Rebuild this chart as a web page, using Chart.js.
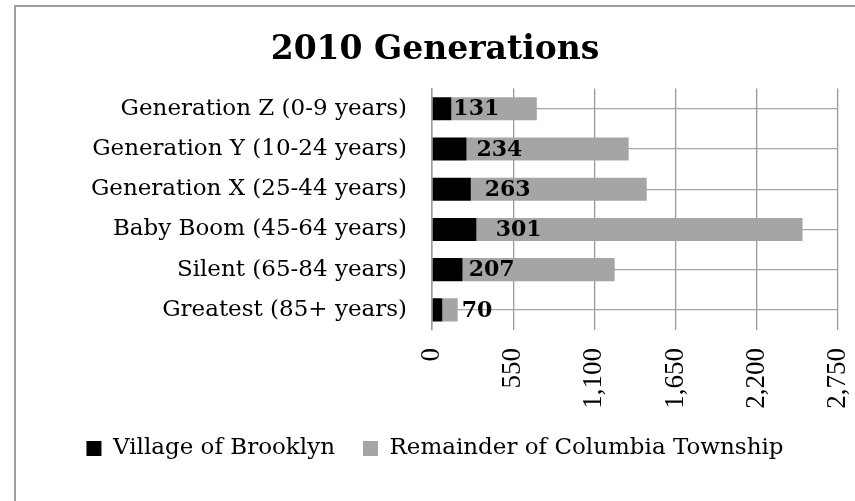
<!DOCTYPE html>
<html>
<head>
<meta charset="utf-8">
<script src="https://cdn.jsdelivr.net/npm/chart.js@4/dist/chart.umd.min.js"></script>
<style>
  html, body { margin: 0; padding: 0; background: #fff; overflow: hidden; }
  #wrap { position: absolute; left: 0; top: 0; width: 855px; height: 501px; }
</style>
</head>
<body>
<div id="wrap"><canvas id="c" width="855" height="501"></canvas></div>
<script>
const categories = [
  "Generation Z (0-9 years)",
  "Generation Y (10-24 years)",
  "Generation X (25-44 years)",
  "Baby Boom (45-64 years)",
  "Silent (65-84 years)",
  "Greatest (85+ years)"
];
const villageOfBrooklyn = [131, 234, 263, 301, 207, 70];
const remainderOfColumbia = [579, 1098, 1191, 2209, 1030, 104];
const seriesNames = ["Village of Brooklyn", "Remainder of Columbia Township"];
const xTicks = [0, 550, 1100, 1650, 2200, 2750];
const chartTitle = "2010 Generations";

const SERIF = "'DejaVu Serif', Georgia, serif";

const borderPlugin = {
  id: 'outerBorder',
  beforeDraw(chart) {
    const ctx = chart.ctx;
    ctx.save();
    ctx.strokeStyle = '#a0a0a0';
    ctx.lineWidth = 2;
    ctx.strokeRect(15, 6, 1000, 1000);
    ctx.restore();
  }
};

const labelPlugin = {
  id: 'barValueLabels',
  afterDatasetsDraw(chart) {
    const ctx = chart.ctx;
    const xs = chart.scales.x;
    const m0 = chart.getDatasetMeta(0);
    const m1 = chart.getDatasetMeta(1);
    ctx.save();
    ctx.font = "bold 22px " + SERIF;
    ctx.fillStyle = '#000';
    ctx.textBaseline = 'middle';
    ctx.textAlign = 'center';
    villageOfBrooklyn.forEach((v, i) => {
      const el0 = m0.data[i];
      const el1 = m1.data[i];
      const txt = String(v);
      const w = ctx.measureText(txt).width;
      let cx = Math.max(xs.getPixelForValue(v * 1.95), el0.x + 2 + w / 2);
      const graySeg = el1.x - el0.x;
      if (graySeg < w + 4) {
        cx = el1.x + 4 + w / 2;
      }
      ctx.fillText(txt, cx, el0.y + 1);
    });
    ctx.restore();
  }
};

new Chart(document.getElementById('c'), {
  type: 'bar',
  data: {
    labels: categories,
    datasets: [
      { label: seriesNames[0], data: villageOfBrooklyn, backgroundColor: '#000000', borderWidth: 0 },
      { label: seriesNames[1], data: remainderOfColumbia, backgroundColor: '#a5a5a5', borderWidth: 0 }
    ]
  },
  plugins: [borderPlugin, labelPlugin],
  options: {
    indexAxis: 'y',
    responsive: false,
    animation: false,
    devicePixelRatio: 1,
    datasets: { bar: { categoryPercentage: 1, barPercentage: 0.573 } },
    layout: { padding: { left: 15, top: 6, right: 0, bottom: 31 } },
    scales: {
      x: {
        stacked: true,
        min: 0, max: 2750,
        afterBuildTicks(scale) { scale.ticks = xTicks.map(v => ({ value: v })); },
        grid: { color: '#9a9a9a', lineWidth: 1.3, drawTicks: false },
        border: { display: false },
        ticks: {
          minRotation: 90, maxRotation: 90, padding: 18, color: '#000',
          font: { family: "'Liberation Serif', 'Times New Roman', serif", size: 27 },
          callback(v) { return Number(v).toLocaleString('en-US'); }
        },
        afterFit(scale) { scale.height = 79; scale.paddingRight = 17; scale.paddingLeft = 0; }
      },
      y: {
        stacked: true,
        grid: { color: '#a6a6a6', lineWidth: 1.3, drawTicks: false, offset: false },
        border: { display: true, color: '#9a9a9a', width: 1.5 },
        ticks: { padding: 25, color: '#000', font: { family: SERIF, size: 23 } },
        afterFit(scale) { scale.width = 417; scale.paddingTop = 0; scale.paddingBottom = 0; }
      }
    },
    plugins: {
      title: {
        display: true, text: chartTitle, color: '#000',
        font: { family: SERIF, size: 33, weight: 'bold' },
        padding: { top: 25, bottom: 18 }
      },
      legend: {
        display: true, position: 'bottom',
        labels: {
          color: '#000', boxWidth: 15, boxHeight: 15, padding: 28,
          font: { family: SERIF, size: 23 }
        }
      },
      tooltip: { enabled: false }
    }
  }
});
</script>
</body>
</html>
